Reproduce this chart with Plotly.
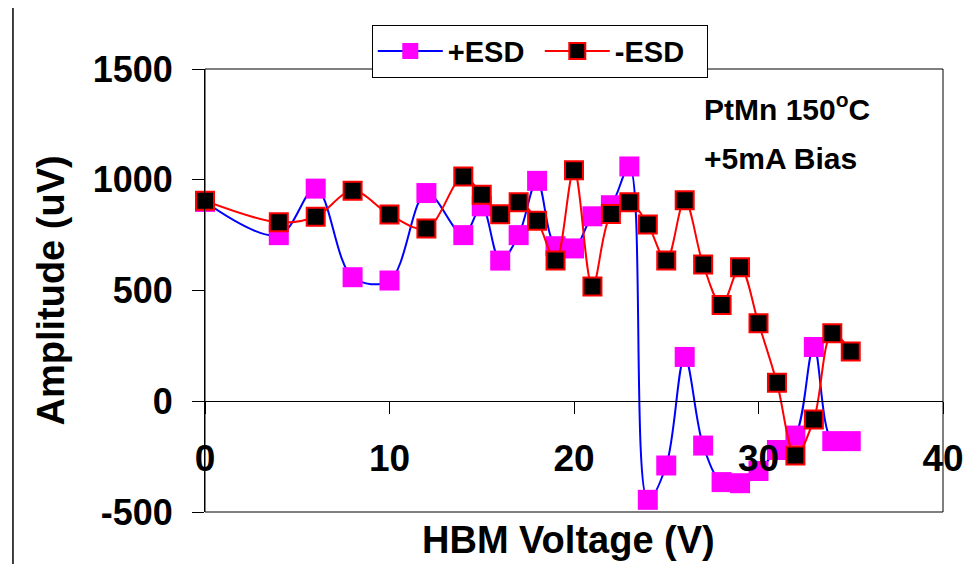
import plotly.graph_objects as go

# HBM voltage (V)
voltage = [0, 4, 6, 8, 10, 12, 14, 15, 16, 17, 18, 19, 20, 21, 22, 23, 24, 25,
           26, 27, 28, 29, 30, 31, 32, 33, 34, 35]

# Amplitude (uV)
plus_esd = [900, 750, 960, 560, 545, 940, 750, 880, 635, 750, 995, 700, 690, 835,
            885, 1060, -445, -290, 200, -200, -365, -370, -315, -220, -155, 245,
            -180, -180]
minus_esd = [905, 808, 833, 950, 843, 780, 1015, 932, 844, 898, 815, 635, 1043, 518,
             845, 898, 798, 635, 907, 617, 435, 605, 352, 83, -245, -82, 307, 225]

x_ticks = [0, 10, 20, 30, 40]
y_ticks = [-500, 0, 500, 1000, 1500]

FONT = "Liberation Sans, Arial, sans-serif"

fig = go.Figure()
fig.add_trace(go.Scatter(
    x=voltage, y=plus_esd, name="+ESD", mode="lines+markers",
    line=dict(color="#0000FF", width=2, shape="spline", smoothing=1.0),
    marker=dict(symbol="square", size=20, color="#FF00FF", line=dict(width=0)),
    cliponaxis=False,
))
fig.add_trace(go.Scatter(
    x=voltage, y=minus_esd, name="-ESD", mode="lines+markers",
    line=dict(color="#FF0000", width=2, shape="spline", smoothing=1.0),
    marker=dict(symbol="square", size=18, color="#000000",
                line=dict(color="#FF0000", width=2)),
    cliponaxis=False,
))

fig.update_layout(
    width=976, height=564,
    margin=dict(l=197, r=41, t=61, b=60, autoexpand=False),
    paper_bgcolor="white", plot_bgcolor="white",
    font=dict(family=FONT, color="black"),
    showlegend=True,
    legend=dict(
        orientation="h", x=0.226, y=1.10, xanchor="left", yanchor="top",
        bgcolor="white", bordercolor="black", borderwidth=1,
        font=dict(family=FONT, size=29, color="black", weight="bold"),
        itemwidth=65, entrywidth=87,
    ),
    xaxis=dict(
        range=[0, 40], tickvals=x_ticks, ticktext=[str(v) for v in x_ticks],
        anchor="free", position=0.25, side="bottom",
        showline=True, linecolor="black", linewidth=1,
        ticks="outside", ticklen=12, tickcolor="black", tickwidth=1,
        showgrid=False, zeroline=False,
        tickfont=dict(family=FONT, size=37, color="black", weight="bold"),
        ticklabelstandoff=12,
    ),
    yaxis=dict(
        range=[-500, 1500], tickvals=y_ticks, ticktext=[str(v) for v in y_ticks],
        showline=True, linecolor="black", linewidth=1,
        ticks="outside", ticklen=12, tickcolor="black", tickwidth=1,
        showgrid=False, zeroline=False,
        tickfont=dict(family=FONT, size=36, color="black", weight="bold"),
        ticklabelstandoff=12,
    ),
    shapes=[
        dict(type="rect", xref="paper", yref="paper", x0=0, x1=1, y0=0, y1=1,
             line=dict(color="black", width=1), layer="below"),
        dict(type="line", xref="paper", yref="paper", x0=-0.2602, x1=-0.2602,
             y0=-0.14, y1=1.16, line=dict(color="black", width=1.5)),
    ],
    annotations=[
        dict(text="<b>Amplitude (uV)</b>", xref="paper", yref="paper",
             x=-0.21, y=0.5, xanchor="center", yanchor="middle",
             textangle=-90, showarrow=False,
             font=dict(family=FONT, size=38, color="black")),
        dict(text="<b>HBM Voltage (V)</b>", xref="paper", yref="paper",
             x=0.492, y=-0.063, xanchor="center", yanchor="middle",
             showarrow=False,
             font=dict(family=FONT, size=38, color="black")),
        dict(text="<b>PtMn 150<sup>o</sup>C</b>", xref="paper", yref="paper",
             x=0.789, y=(512 - 107) / 443, xanchor="center", yanchor="middle",
             showarrow=False,
             font=dict(family=FONT, size=30, color="black")),
        dict(text="<b>+5mA Bias</b>", xref="paper", yref="paper",
             x=0.780, y=(512 - 158) / 443, xanchor="center", yanchor="middle",
             showarrow=False,
             font=dict(family=FONT, size=30, color="black")),
    ],
)

fig.write_html("out.html")
